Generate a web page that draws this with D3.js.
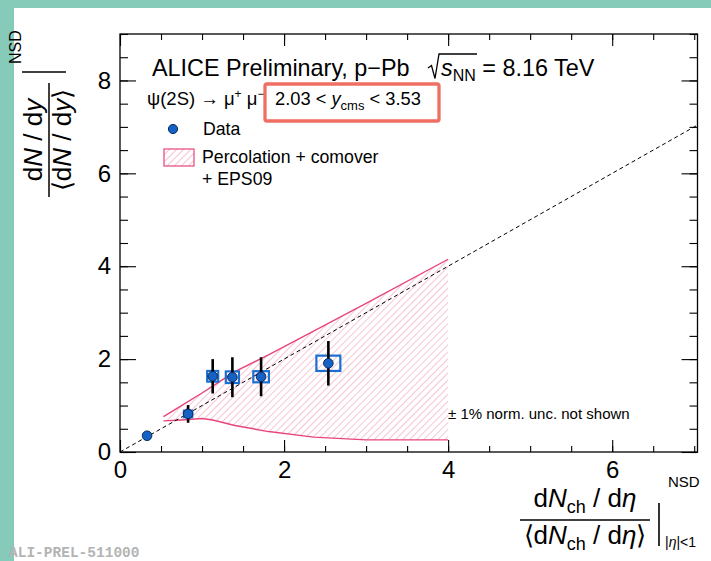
<!DOCTYPE html>
<html><head><meta charset="utf-8">
<script src="https://cdn.jsdelivr.net/npm/d3@7"></script>
<style>
body{margin:0;background:#fff;}
svg{display:block;font-family:"Liberation Sans",Arial,Helvetica,sans-serif;}
</style></head><body>
<svg id="c" width="711" height="561"></svg>
<script>
// psi(2S) self-normalised yield vs charged-particle multiplicity
const dataX    = [0.33, 0.83, 1.13, 1.37, 1.72, 2.54];
const dataY    = [0.35, 0.82, 1.63, 1.61, 1.62, 1.91];
const statErr  = [0.00, 0.19, 0.37, 0.43, 0.42, 0.48];
const systErrX = [0.00, 0.05, 0.067, 0.08, 0.095, 0.146];
const systErrY = [0.00, 0.07, 0.115, 0.125, 0.12, 0.165];

// model band: percolation + comover + EPS09
const bandX     = [0.53, 0.75, 1.00, 1.13, 1.40, 1.81, 2.36, 3.00, 4.00];
const bandUpper = [0.76, 1.00, 1.27, 1.42, 1.73, 2.09, 2.60, 3.20, 4.15];
const bandLower = [0.67, 0.69, 0.72, 0.69, 0.57, 0.44, 0.32, 0.26, 0.26];

const xMajor = [0, 2, 4, 6];
const yMajor = [0, 2, 4, 6, 8];

const svg = d3.select("#c");
const L = 120, R = 697.5, T = 34, B = 452;
const x = d3.scaleLinear().domain([0, 7.04]).range([L, R]);
const y = d3.scaleLinear().domain([0, 9.0]).range([B, T]);

// teal page border
svg.append("rect").attr("x",0).attr("y",0).attr("width",711).attr("height",8).attr("fill","#86cab9");
svg.append("rect").attr("x",0).attr("y",0).attr("width",14).attr("height",561).attr("fill","#86cab9");

// hatch pattern
const defs = svg.append("defs");
const pat = defs.append("pattern").attr("id","hatch").attr("patternUnits","userSpaceOnUse")
  .attr("width",5).attr("height",5).attr("patternTransform","rotate(45)");
pat.append("line").attr("x1",0).attr("y1",0).attr("x2",0).attr("y2",5)
  .attr("stroke","#ec7ea0").attr("stroke-width",0.9);

const clip = defs.append("clipPath").attr("id","frame");
clip.append("rect").attr("x",L).attr("y",T).attr("width",R-L).attr("height",B-T);

// band
const area = d3.area().x((d,i)=>x(bandX[i])).y0((d,i)=>y(bandLower[i])).y1((d,i)=>y(bandUpper[i]));
svg.append("path").datum(bandX).attr("d",area).attr("fill","url(#hatch)");
const lineU = d3.line().x((d,i)=>x(bandX[i])).y((d,i)=>y(bandUpper[i]));
const lineL = d3.line().x((d,i)=>x(bandX[i])).y((d,i)=>y(bandLower[i]));
svg.append("path").datum(bandX).attr("d",lineU).attr("fill","none").attr("stroke","#e8457c").attr("stroke-width",1.4);
svg.append("path").datum(bandX).attr("d",lineL).attr("fill","none").attr("stroke","#e8457c").attr("stroke-width",1.4);

// y = x reference line
svg.append("line").attr("clip-path","url(#frame)")
  .attr("x1",x(0)).attr("y1",y(0)).attr("x2",x(7.04)).attr("y2",y(7.04))
  .attr("stroke","#000").attr("stroke-width",1).attr("stroke-dasharray","4,3");

// axes (ticks point inward on all four sides)
function axisG(gen, tx, ty){
  const g = svg.append("g").attr("transform",`translate(${tx},${ty})`).call(gen);
  g.select(".domain").remove();
  g.selectAll("line").attr("stroke","#000").attr("stroke-width",1.1);
  return g;
}
const xMinor = d3.range(0, 7.01, 0.5);
const yMinor = d3.range(0, 9.01, 0.5);
axisG(d3.axisBottom(x).tickValues(xMinor).tickSize(-6).tickFormat(""), 0, B);
axisG(d3.axisTop(x).tickValues(xMinor).tickSize(-6).tickFormat(""), 0, T);
axisG(d3.axisLeft(y).tickValues(yMinor).tickSize(-8).tickFormat(""), L, 0);
axisG(d3.axisRight(y).tickValues(yMinor).tickSize(-8).tickFormat(""), R, 0);
axisG(d3.axisTop(x).tickValues(xMajor).tickSize(-12).tickFormat(""), 0, T);
axisG(d3.axisRight(y).tickValues(yMajor).tickSize(-16).tickFormat(""), R, 0);
const gxb = axisG(d3.axisBottom(x).tickValues(xMajor).tickSize(-12).tickPadding(9).tickFormat(d3.format("d")), 0, B);
gxb.selectAll("text").attr("font-size",24).attr("fill","#000").attr("font-family",null);
const gyl = axisG(d3.axisLeft(y).tickValues(yMajor).tickSize(-16).tickPadding(9).tickFormat(d3.format("d")), L, 0);
gyl.selectAll("text").attr("font-size",24).attr("fill","#000").attr("font-family",null);

svg.append("rect").attr("x",L).attr("y",T).attr("width",R-L).attr("height",B-T)
  .attr("fill","none").attr("stroke","#000").attr("stroke-width",1.3);

// data: systematic boxes, statistical bars, markers
const idx = d3.range(dataX.length);
svg.append("g").selectAll("rect").data(idx.filter(i=>systErrX[i]>0)).join("rect")
  .attr("x",i=>x(dataX[i]-systErrX[i])).attr("y",i=>y(dataY[i]+systErrY[i]))
  .attr("width",i=>x(dataX[i]+systErrX[i])-x(dataX[i]-systErrX[i]))
  .attr("height",i=>y(dataY[i]-systErrY[i])-y(dataY[i]+systErrY[i]))
  .attr("fill","none").attr("stroke","#1b6fd1").attr("stroke-width",2.2);
svg.append("g").selectAll("line").data(idx.filter(i=>statErr[i]>0)).join("line")
  .attr("x1",i=>x(dataX[i])).attr("x2",i=>x(dataX[i]))
  .attr("y1",i=>y(dataY[i]+statErr[i])).attr("y2",i=>y(dataY[i]-statErr[i]))
  .attr("stroke","#000").attr("stroke-width",2.6);
svg.append("g").selectAll("circle").data(idx).join("circle")
  .attr("cx",i=>x(dataX[i])).attr("cy",i=>y(dataY[i])).attr("r",4.8)
  .attr("fill","#1662c4").attr("stroke","#0b2a5c").attr("stroke-width",1);

// header texts
svg.append("text").attr("x",152).attr("y",76).attr("font-size",23.4).text("ALICE Preliminary, p\u2212Pb");
svg.append("path").attr("d","M428,68 L431.5,65.5 L435,78.5 L439,54 L477,54")
  .attr("fill","none").attr("stroke","#000").attr("stroke-width",1.3);
const t2 = svg.append("text").attr("x",441).attr("y",76).attr("font-size",23.4);
t2.append("tspan").attr("font-style","italic").text("s");
t2.append("tspan").attr("font-size",16).attr("dy",5).text("NN");
t2.append("tspan").attr("dy",-5).text(" = 8.16 TeV");

const t3 = svg.append("text").attr("x",147).attr("y",105).attr("font-size",18.5);
t3.append("tspan").text("\u03C8(2S) \u2192 \u03BC");
t3.append("tspan").attr("font-size",12).attr("dy",-7).text("+");
t3.append("tspan").attr("dy",7).text(" \u03BC");
t3.append("tspan").attr("font-size",12).attr("dy",-7).text("\u2212");
const t4 = svg.append("text").attr("x",275).attr("y",105).attr("font-size",18.3);
t4.append("tspan").text("2.03 < ");
t4.append("tspan").attr("font-style","italic").text("y");
t4.append("tspan").attr("font-size",13).attr("dy",5).text("cms");
t4.append("tspan").attr("dy",-5).text(" < 3.53");
svg.append("rect").attr("x",265).attr("y",84).attr("width",174).attr("height",37).attr("rx",2)
  .attr("fill","none").attr("stroke","#ef6f62").attr("stroke-width",3.3);

// legend
svg.append("circle").attr("cx",173).attr("cy",129).attr("r",4.6).attr("fill","#1662c4").attr("stroke","#0b2a5c");
svg.append("text").attr("x",203).attr("y",135).attr("font-size",17.7).text("Data");
svg.append("rect").attr("x",164).attr("y",149).attr("width",30).attr("height",17)
  .attr("fill","url(#hatch)").attr("stroke","#e8457c").attr("stroke-width",1.2);
svg.append("text").attr("x",202).attr("y",163).attr("font-size",17.7).text("Percolation + comover");
svg.append("text").attr("x",202).attr("y",185).attr("font-size",17.7).text("+ EPS09");

svg.append("text").attr("x",448).attr("y",419).attr("font-size",15).text("\u00B1 1% norm. unc. not shown");

// y-axis title
const gy = svg.append("g").attr("transform","translate(49,140) rotate(-90)");
const ny = gy.append("text").attr("x",0).attr("y",-7).attr("text-anchor","middle").attr("font-size",26);
ny.append("tspan").text("d");
ny.append("tspan").attr("font-style","italic").text("N");
ny.append("tspan").text(" / d");
ny.append("tspan").attr("font-style","italic").text("y");
gy.append("line").attr("x1",-57).attr("x2",57).attr("y1",0).attr("y2",0).attr("stroke","#000").attr("stroke-width",1.5);
const dy_ = gy.append("text").attr("x",0).attr("y",22).attr("text-anchor","middle").attr("font-size",26);
dy_.append("tspan").text("\u27E8d");
dy_.append("tspan").attr("font-style","italic").text("N");
dy_.append("tspan").text(" / d");
dy_.append("tspan").attr("font-style","italic").text("y");
dy_.append("tspan").text("\u27E9");
gy.append("line").attr("x1",68).attr("x2",68).attr("y1",-27).attr("y2",17).attr("stroke","#000").attr("stroke-width",1.6);
gy.append("text").attr("x",76).attr("y",-28).attr("font-size",16).text("NSD");

// x-axis title
const gx = svg.append("g").attr("transform","translate(585,520)");
const nx = gx.append("text").attr("x",0).attr("y",-13).attr("text-anchor","middle").attr("font-size",26);
nx.append("tspan").text("d");
nx.append("tspan").attr("font-style","italic").text("N");
nx.append("tspan").attr("font-size",18).attr("dy",6).text("ch");
nx.append("tspan").attr("dy",-6).text(" / d");
nx.append("tspan").attr("font-style","italic").text("\u03B7");
gx.append("line").attr("x1",-65).attr("x2",65).attr("y1",0).attr("y2",0).attr("stroke","#000").attr("stroke-width",1.5);
const dx_ = gx.append("text").attr("x",0).attr("y",24).attr("text-anchor","middle").attr("font-size",26);
dx_.append("tspan").text("\u27E8d");
dx_.append("tspan").attr("font-style","italic").text("N");
dx_.append("tspan").attr("font-size",18).attr("dy",6).text("ch");
dx_.append("tspan").attr("dy",-6).text(" / d");
dx_.append("tspan").attr("font-style","italic").text("\u03B7");
dx_.append("tspan").text("\u27E9");
svg.append("line").attr("x1",659).attr("x2",659).attr("y1",503).attr("y2",546).attr("stroke","#000").attr("stroke-width",1.6);
svg.append("text").attr("x",668).attr("y",487).attr("font-size",15).text("NSD");
const et = svg.append("text").attr("x",665).attr("y",547).attr("font-size",14);
et.append("tspan").text("|");
et.append("tspan").attr("font-style","italic").text("\u03B7");
et.append("tspan").text("|<1");

// preliminary figure id
svg.append("text").attr("x",9).attr("y",557).attr("font-family","'Liberation Mono','DejaVu Sans Mono',monospace")
  .attr("font-weight","bold").attr("font-size",14.5).attr("fill","#b4b4b4").text("ALI-PREL-511000");
</script>
</body></html>
